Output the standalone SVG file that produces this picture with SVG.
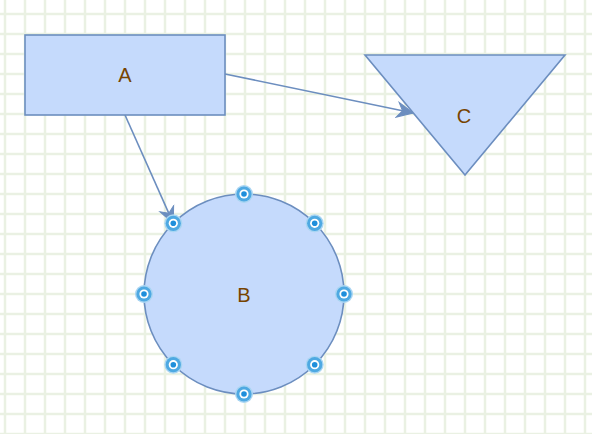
<svg xmlns="http://www.w3.org/2000/svg" xmlns:xlink="http://www.w3.org/1999/xlink" width="592" height="434" viewBox="0 0 592 434">
  <style>
    .shape { fill: #c5dafc; stroke: #6c8ebf; stroke-width: 1.6; }
    .edge { fill: none; stroke: #6c8ebf; stroke-width: 1.6; }
    .label { font-family: "Liberation Sans", Arial, sans-serif; font-size: 20px; fill: #774400; text-anchor: middle; }
  </style>
  <defs>
    <pattern id="grid" patternUnits="userSpaceOnUse" x="-5" y="4" width="20" height="20">
      <path d="M10,0 V20 M0,10 H20" stroke="#eaf1e3" stroke-width="2.5" fill="none"/>
    </pattern>
    <marker id="arrow" markerUnits="userSpaceOnUse" viewBox="-17 -9 18 18" refX="0" refY="0" markerWidth="18" markerHeight="18" orient="auto">
      <path d="M0,0 L-16,-7.5 L-11,0 L-16,7.5 Z" fill="#6c8ebf" stroke="#6c8ebf" stroke-width="1" stroke-linejoin="miter"/>
    </marker>
    <g id="cp">
      <circle r="9" fill="#a9d5f2"/>
      <circle r="7.6" fill="#4ea9e2"/>
      <circle r="4.6" fill="#ffffff"/>
      <circle r="2.8" fill="#1f8fdb"/>
    </g>
  </defs>
  <rect x="0" y="0" width="592" height="434" fill="#ffffff"/>
  <rect x="0" y="0" width="592" height="434" fill="url(#grid)"/>

  <g id="connectors">
    <path class="edge" d="M225,74 L413.3,113" marker-end="url(#arrow)"/>
    <path class="edge" d="M125,115 L173.3,223.3" marker-end="url(#arrow)"/>
  </g>

  <g id="node-A">
    <rect class="shape" x="25" y="35" width="200" height="80"/>
    <text class="label" x="125" y="82">A</text>
  </g>

  <g id="node-C">
    <polygon class="shape" points="365,55 565,55 465,175"/>
    <text class="label" x="464" y="123">C</text>
  </g>

  <g id="node-B">
    <circle class="shape" cx="244" cy="294" r="100"/>
    <text class="label" x="244" y="302">B</text>
    <use xlink:href="#cp" x="244" y="194"/>
    <use xlink:href="#cp" x="314.7" y="223.3"/>
    <use xlink:href="#cp" x="344" y="294"/>
    <use xlink:href="#cp" x="314.7" y="364.7"/>
    <use xlink:href="#cp" x="244" y="394"/>
    <use xlink:href="#cp" x="173.3" y="364.7"/>
    <use xlink:href="#cp" x="144" y="294"/>
    <use xlink:href="#cp" x="173.3" y="223.3"/>
  </g>
</svg>
